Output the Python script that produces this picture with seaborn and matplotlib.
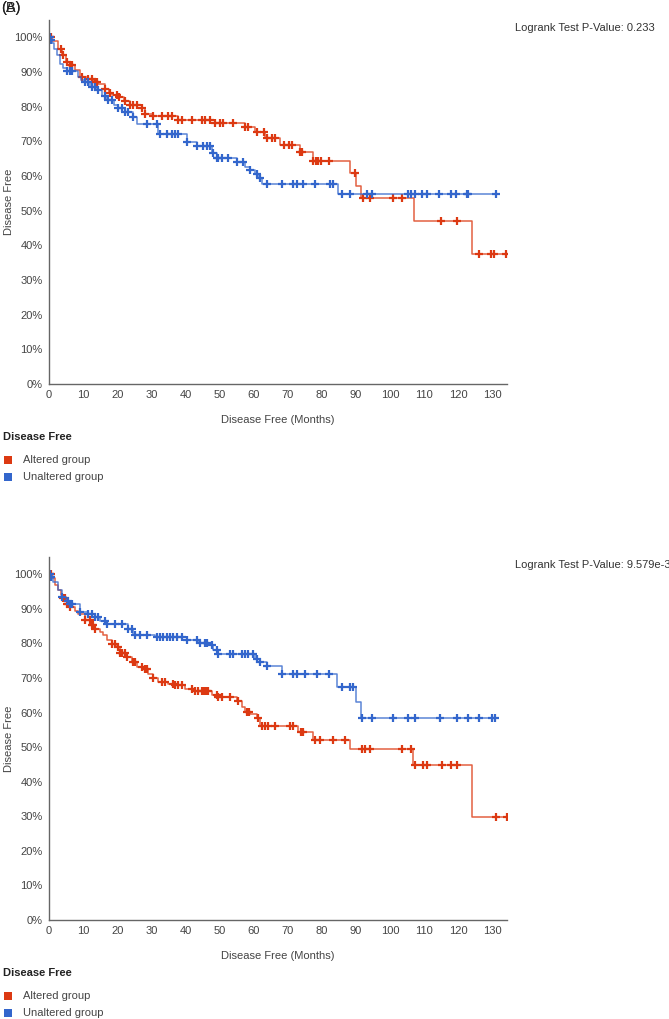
import numpy as np
import pandas as pd
import matplotlib
matplotlib.use("Agg")
import matplotlib.pyplot as plt
import matplotlib.patches as mpatches
import seaborn as sns

# ─────────────────────────────────────────────
# Data (months / % disease free)
# ─────────────────────────────────────────────
# Panel A — Altered group
a_alt_t = [0, 0.8, 2.5, 3.7, 5.0, 6.2, 7.5, 9.1, 11.5, 13.0, 14.5, 16.4, 17.5, 18.4, 20.3, 22.0,
           23.8, 27.2, 28.2, 30.6, 37.9, 48.7, 57.5, 60.4, 63.3, 67.7, 73.6, 77.3, 88.3, 90.0,
           91.4, 106.9, 123.9]
a_alt_s = [100, 99.0, 96.5, 94.8, 93.0, 91.9, 90.5, 88.6, 88.1, 87.0, 86.6, 85.2, 84.0, 83.3, 82.8, 81.5,
           80.4, 79.6, 78.0, 77.3, 76.2, 75.3, 74.2, 72.8, 71.0, 69.0, 66.8, 64.3, 60.8, 57.1,
           53.7, 47.0, 37.5]
a_alt_cens = [0.3, 0.6, 3.5, 4.2, 5.2, 6.2, 6.7, 9.6, 11.5, 12.5, 13.5, 14.0, 16.4, 17.9, 19.9, 20.6,
              22.3, 23.8, 24.7, 25.7, 27.2, 28.2, 30.6, 33.0, 35.0, 36.0, 37.9, 38.9, 41.8, 44.8,
              45.7, 47.2, 48.7, 50.1, 51.1, 54.0, 57.5, 58.4, 60.9, 62.9, 64.0, 65.3, 66.3, 68.9,
              70.5, 71.2, 73.6, 74.2, 77.5, 78.2, 78.9, 79.9, 82.0, 89.6, 92.0, 94.1, 101.0, 103.4,
              115.0, 119.7, 126.1, 129.6, 130.6, 133.9]

# Panel A — Unaltered group
a_unalt_t = [0, 0.5, 0.8, 1.5, 2.3, 3.2, 4.2, 5.2, 8.6, 9.5, 10.6, 12.0, 14.0, 15.5, 16.9, 19.0,
             20.3, 22.3, 24.7, 25.7, 32.1, 40.4, 43.3, 47.7, 49.2, 55.0, 57.5, 58.9, 60.4, 61.4,
             62.4, 84.7]
a_unalt_s = [100, 99.2, 98.4, 96.5, 94.8, 92.4, 91.2, 90.3, 88.6, 87.8, 87.0, 85.7, 84.7, 83.2, 81.8, 80.6,
             79.6, 78.5, 77.0, 74.9, 72.2, 69.8, 68.7, 66.5, 65.2, 64.0, 62.6, 61.7, 60.5, 59.4,
             57.6, 54.9]
a_unalt_cens = [0.3, 0.6, 5.2, 6.2, 6.7, 10.6, 11.5, 12.5, 13.5, 14.5, 16.4, 17.4, 18.4, 20.3, 21.3,
                22.3, 23.3, 24.7, 28.7, 31.6, 32.6, 34.5, 36.0, 37.0, 37.9, 40.4, 43.3, 45.3, 46.2,
                47.2, 48.2, 49.2, 49.6, 50.6, 52.6, 55.0, 57.0, 58.9, 60.9, 61.9, 63.8, 68.2, 71.6,
                72.6, 74.6, 78.0, 82.4, 83.4, 86.0, 88.3, 93.2, 94.6, 105.4, 106.2, 107.3, 109.3,
                110.8, 114.5, 117.8, 119.4, 122.5, 123.0, 131.1]

# Panel B — Altered group
b_alt_t = [0, 0.8, 1.8, 2.7, 3.5, 4.2, 5.2, 6.2, 7.5, 8.6, 10.6, 12.5, 13.5, 15.0, 15.9, 17.0, 18.4,
           19.9, 20.8, 22.8, 24.3, 25.7, 27.7, 29.1, 30.5, 32.1, 35.0, 37.0, 39.9, 42.8, 47.7, 49.6,
           55.0, 56.5, 57.5, 58.9, 60.9, 61.9, 72.9, 77.3, 88.3, 106.8, 124.0]
b_alt_s = [100, 98.8, 97.0, 95.4, 94.0, 93.0, 91.5, 90.5, 89.5, 88.6, 86.7, 85.3, 84.3, 83.3, 82.4, 81.0, 79.7,
           79.0, 77.1, 76.1, 74.7, 73.2, 72.7, 71.3, 70.0, 68.9, 68.4, 67.9, 66.9, 66.2, 65.0, 64.5,
           63.3, 61.5, 60.2, 59.7, 58.3, 56.1, 54.4, 52.2, 49.5, 44.8, 29.9]
b_alt_cens = [0.3, 0.5, 4.2, 4.7, 5.2, 5.7, 6.2, 10.6, 12.0, 12.5, 13.0, 13.5, 18.4, 19.4, 20.3, 20.8,
              21.3, 22.3, 22.8, 24.7, 25.2, 27.2, 28.2, 28.7, 30.6, 33.0, 34.0, 36.5, 37.0, 37.9,
              38.9, 41.8, 42.8, 43.8, 44.8, 45.2, 45.7, 46.2, 46.7, 49.2, 49.6, 50.6, 53.1, 55.5,
              58.0, 58.7, 61.4, 62.4, 63.3, 64.3, 66.3, 70.7, 71.6, 74.0, 74.6, 78.0, 79.5, 83.4,
              86.8, 91.7, 92.7, 94.1, 103.4, 106.2, 107.3, 109.8, 110.8, 115.2, 117.8, 119.6,
              131.1, 134.2]

# Panel B — Unaltered group
b_unalt_t = [0, 0.5, 1.3, 2.5, 3.7, 5.0, 6.2, 9.1, 11.5, 13.5, 15.0, 16.9, 23.3, 24.7, 31.1, 40.4,
             43.8, 46.7, 48.2, 49.6, 60.4, 61.9, 63.8, 68.2, 84.5, 90.0, 91.5]
b_unalt_s = [100, 99.2, 97.8, 95.5, 93.4, 92.3, 91.5, 89.1, 88.4, 87.7, 86.5, 85.7, 84.3, 82.5, 81.9, 80.9,
             80.0, 79.5, 78.0, 76.8, 75.6, 74.6, 73.5, 71.1, 67.4, 63.1, 58.3]
b_unalt_cens = [0.3, 0.5, 0.7, 3.7, 5.7, 6.2, 6.7, 9.1, 11.5, 12.5, 13.5, 14.5, 16.4, 16.9, 19.4, 21.3,
                23.3, 24.3, 25.2, 26.7, 28.7, 31.6, 32.6, 33.5, 34.5, 35.5, 36.5, 37.4, 38.9, 40.4,
                43.3, 44.3, 45.7, 46.2, 47.7, 49.2, 49.6, 53.1, 54.0, 56.5, 57.5, 58.4, 59.9, 60.9,
                61.9, 63.8, 68.2, 71.6, 72.6, 75.1, 78.5, 82.1, 85.8, 88.3, 89.2, 91.7, 94.6, 101.0,
                105.4, 107.3, 114.7, 119.7, 123.0, 126.1, 129.8, 130.8]

panel_labels = ["(A)", "(B)"]
p_values = ["0.233", "9.579e-3"]
group_names = ["Altered group", "Unaltered group"]
x_ticks = list(range(0, 131, 10))
y_ticks = list(range(0, 101, 10))

RED = "#dc3912"
BLUE = "#3366cc"
GREY = "#444444"

sns.set_style("white")
plt.rcParams["font.family"] = ["Liberation Sans", "DejaVu Sans"]


def km_frames(steps_t, steps_s, cens_t):
    """Step curve frame + censor-mark frame (censor y looked up on the step curve)."""
    t = np.asarray(steps_t, float)
    s = np.asarray(steps_s, float)
    c = np.asarray(cens_t, float)
    end = max(t[-1], c.max())
    line = pd.DataFrame({"t": np.append(t, end), "s": np.append(s, s[-1])})
    idx = np.searchsorted(t, c, side="right") - 1
    marks = pd.DataFrame({"t": c, "s": s[idx]})
    return line, marks


def draw_panel(ax, curves):
    for (steps_t, steps_s, cens_t), color in curves:
        line, marks = km_frames(steps_t, steps_s, cens_t)
        sns.lineplot(data=line, x="t", y="s", drawstyle="steps-post", color=color,
                     alpha=0.8, linewidth=1.1, ax=ax, sort=False)
        ax.plot(marks["t"], marks["s"], linestyle="none", marker="+", markersize=5.2,
                markeredgewidth=1.6, color=color)

    ax.set_xlim(0, 134.3)
    ax.set_ylim(0, 105)
    ax.set_xticks(x_ticks)
    ax.set_yticks(y_ticks)
    ax.set_yticklabels([f"{v}%" for v in y_ticks])
    for side in ["top", "right"]:
        ax.spines[side].set_visible(False)
    for side in ["left", "bottom"]:
        ax.spines[side].set_color("#666666")
        ax.spines[side].set_linewidth(1.0)
    ax.tick_params(axis="both", direction="out", length=3, width=0.8, color="#666666",
                   labelsize=8, labelcolor=GREY, pad=1.5)
    ax.set_xlabel("Disease Free (Months)", fontsize=8, color=GREY)
    ax.set_ylabel("Disease Free", fontsize=8, color=GREY)
    ax.xaxis.set_label_coords(0.5, -0.085)
    ax.yaxis.set_label_coords(-0.077, 0.5)


W, H = 669, 1019
fig = plt.figure(figsize=(W / 100, H / 100), dpi=100)
fig.patch.set_facecolor("white")

panels = [
    (384, 20, [((a_alt_t, a_alt_s, a_alt_cens), RED), ((a_unalt_t, a_unalt_s, a_unalt_cens), BLUE)]),
    (920, 557, [((b_alt_t, b_alt_s, b_alt_cens), RED), ((b_unalt_t, b_unalt_s, b_unalt_cens), BLUE)]),
]

for i, (y0, y1, curves) in enumerate(panels):
    ax = fig.add_axes([49 / W, 1 - y0 / H, (507 - 49) / W, (y0 - y1) / H])
    ax.set_facecolor("white")
    draw_panel(ax, curves)

    # p-value note
    fig.text(515 / W, 1 - (y1 + 8) / H, f"Logrank Test P-Value: {p_values[i]}",
             fontsize=8, color="#333333", ha="left", va="center")

    # legend block
    ly = y0 + 53
    fig.text(3 / W, 1 - ly / H, "Disease Free", fontsize=8, fontweight="bold",
             color="#222222", ha="left", va="center")
    for j, (name, color) in enumerate(zip(group_names, [RED, BLUE])):
        yy = ly + 23 + j * 17
        fig.add_artist(mpatches.Rectangle((4 / W, 1 - (yy + 4) / H), 8 / W, 8 / H,
                                          transform=fig.transFigure, color=color, lw=0))
        fig.text(23 / W, 1 - yy / H, name, fontsize=8, color=GREY, ha="left", va="center")

# overlapping panel tags, as in the source image
for lab in panel_labels:
    fig.text(1 / W, 1 - 1 / H, lab, fontsize=10.5, color="#222222", ha="left", va="top")

fig.savefig("out.png", dpi=100, facecolor="white")
